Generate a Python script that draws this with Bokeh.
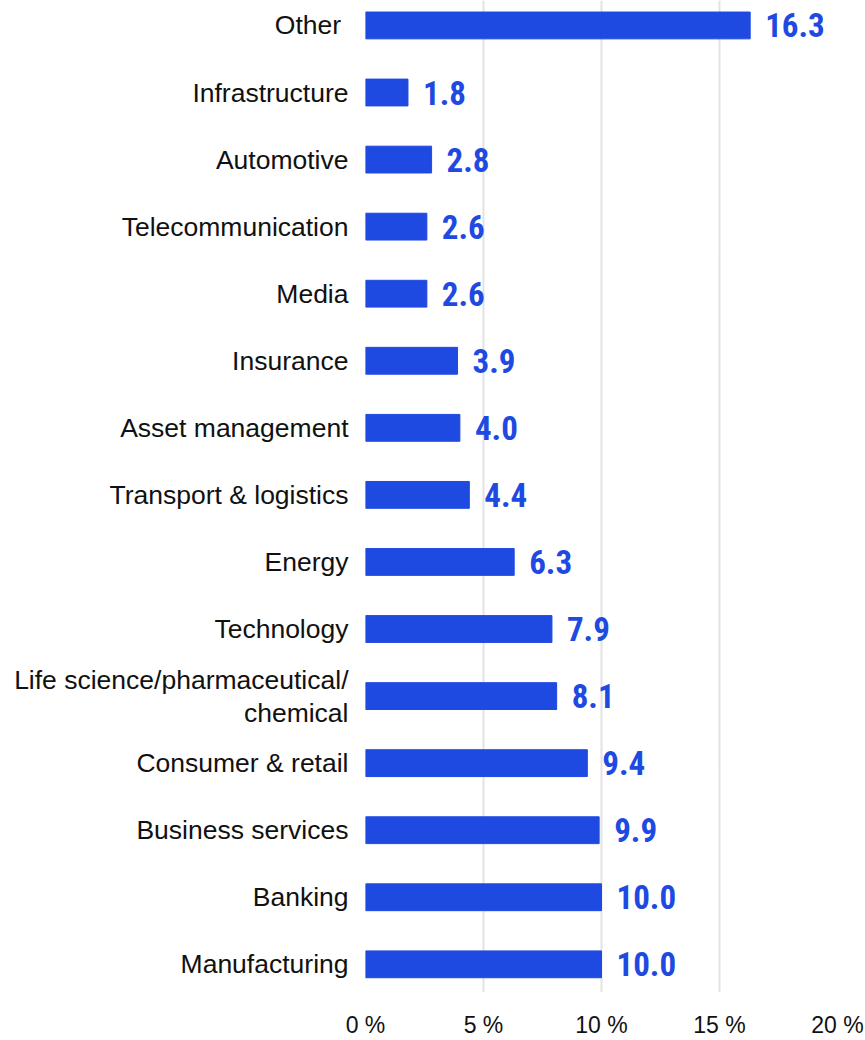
from bokeh.plotting import figure
from bokeh.models import Range1d, FixedTicker, ColumnDataSource
from bokeh.core.properties import value
from bokeh.embed import file_html
from bokeh.resources import INLINE

# bottom to top
categories = ["Manufacturing", "Banking", "Business services", "Consumer & retail",
              "Life science/pharmaceutical/\nchemical", "Technology", "Energy",
              "Transport & logistics", "Asset management", "Insurance", "Media",
              "Telecommunication", "Automotive", "Infrastructure", "Other "]
shares = [10.0, 10.0, 9.9, 9.4, 8.1, 7.9, 6.3, 4.4, 4.0, 3.9, 2.6, 2.6, 2.8, 1.8, 16.3]
x_ticks = [0, 5, 10, 15, 20]
x_tick_labels = ["0 %", "5 %", "10 %", "15 %", "20 %"]

BLUE = "#1f4ae2"

positions = list(range(len(categories)))
src = ColumnDataSource(dict(y=positions, share=shares,
                            label=[f"{v:.1f}" for v in shares]))

p = figure(width=865, height=1040, output_backend="svg", toolbar_location=None,
           x_range=Range1d(0, 20), y_range=Range1d(-0.42, len(categories) - 1 + 0.372),
           min_border_left=365, min_border_right=28, min_border_top=0, min_border_bottom=40)
p.outline_line_color = None
p.background_fill_color = "white"

p.hbar(y="y", left=0, right="share", height=0.4, color=BLUE, source=src)
p.text(x="share", y="y", text="label", source=src, x_offset=15,
       text_baseline="middle", text_align="left", text_color=BLUE,
       text_font=value("Roboto Condensed, Liberation Sans Narrow, DejaVu Sans Condensed, sans-serif"),
       text_font_style="bold", text_font_size="33px")

p.ygrid.visible = False
p.xgrid.ticker = FixedTicker(ticks=x_ticks)
p.xgrid.grid_line_color = "#e2e2e2"
p.xgrid.grid_line_width = 2

p.xaxis.ticker = FixedTicker(ticks=x_ticks)
p.xaxis.major_label_overrides = {t: l for t, l in zip(x_ticks, x_tick_labels)}
p.xaxis.axis_line_color = None
p.xaxis.major_tick_line_color = None
p.xaxis.minor_tick_line_color = None
p.xaxis.major_label_text_font = "Liberation Sans"
p.xaxis.major_label_text_font_size = "23px"
p.xaxis.major_label_text_color = "#111111"
p.xaxis.major_label_standoff = 13

p.yaxis.ticker = FixedTicker(ticks=positions)
p.yaxis.major_label_overrides = {i: c for i, c in zip(positions, categories)}
p.yaxis.axis_line_color = None
p.yaxis.major_tick_line_color = None
p.yaxis.minor_tick_line_color = None
p.yaxis.major_label_text_font = "Liberation Sans"
p.yaxis.major_label_text_font_size = "26.5px"
p.yaxis.major_label_text_line_height = 1.1
p.yaxis.major_label_text_color = "#111111"
p.yaxis.major_label_standoff = 11

open("out.html", "w").write(file_html(p, INLINE))
